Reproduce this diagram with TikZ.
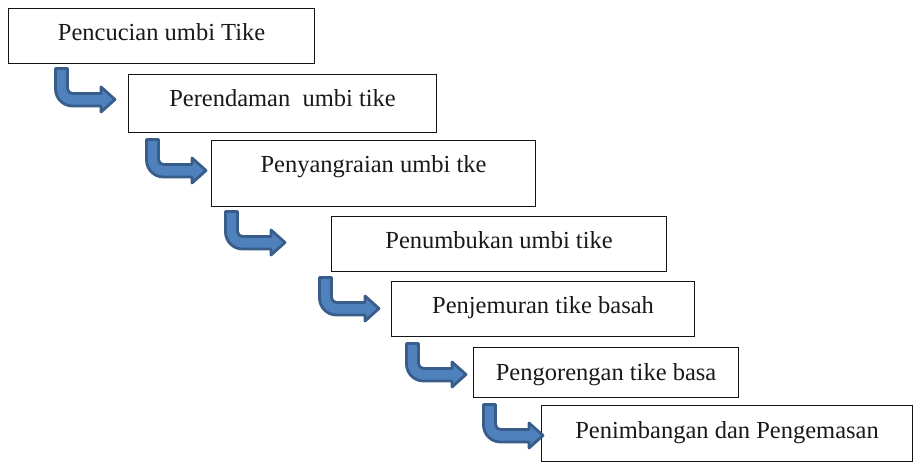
\documentclass[tikz,border=0pt]{standalone}
\usepackage{fontspec}
\setmainfont{Liberation Serif}
\definecolor{arrfill}{RGB}{79,129,189}
\definecolor{arrline}{RGB}{56,93,138}
\definecolor{boxline}{RGB}{20,20,20}
\begin{document}
\begin{tikzpicture}[x=1pt,y=-1pt,
  stepbox/.style={draw=boxline,line width=1.1pt,rectangle,anchor=north west,inner sep=0pt},
  lbl/.style={anchor=base,font=\fontsize{24.5}{28}\selectfont,text=black!90},
  arrowstyle/.style={fill=arrfill,draw=arrline,line width=2.8pt,line join=round},
  bentarr/.pic={
    \filldraw[arrowstyle] (1.5,1.5) -- (13.5,1.5) -- (13.5,21.5)
      arc[start angle=180,end angle=90,radius=5] -- (47,26.5) -- (47,20) -- (61,32.5)
      -- (47,45) -- (47,39) -- (18.5,39)
      arc[start angle=90,end angle=180,radius=17] -- cycle;
  }]
\useasboundingbox (0,0) rectangle (913,462);
% boxes
\node[stepbox,minimum width=306pt,minimum height=55pt] (b1) at (8,8) {};
\node[stepbox,minimum width=308pt,minimum height=58pt] (b2) at (128,74) {};
\node[stepbox,minimum width=324pt,minimum height=66pt] (b3) at (211,140) {};
\node[stepbox,minimum width=335pt,minimum height=55pt] (b4) at (331,216) {};
\node[stepbox,minimum width=303pt,minimum height=55pt] (b5) at (391,281) {};
\node[stepbox,minimum width=265pt,minimum height=50pt] (b6) at (473,347) {};
\node[stepbox,minimum width=371pt,minimum height=56pt] (b7) at (541,405) {};
% labels
\node[lbl] (t1) at ([yshift=-33pt]b1.north) {Pencucian umbi Tike};
\node[lbl] (t2) at ([yshift=-33pt]b2.north) {Perendaman\ \ umbi tike};
\node[lbl] (t3) at ([yshift=-33pt]b3.north) {Penyangraian umbi tke};
\node[lbl] (t4) at ([yshift=-33pt]b4.north) {Penumbukan umbi tike};
\node[lbl] (t5) at ([yshift=-33pt]b5.north) {Penjemuran tike basah};
\node[lbl] (t6) at ([yshift=-33pt]b6.north) {Pengorengan tike basa};
\node[lbl] (t7) at ([yshift=-33pt]b7.north) {Penimbangan dan Pengemasan};
% bent arrows
\pic (a1) at (54,67) {bentarr};
\pic (a2) at (145,138) {bentarr};
\pic (a3) at (224,210) {bentarr};
\pic (a4) at (318,276) {bentarr};
\pic (a5) at (405,342) {bentarr};
\pic (a6) at (482,403) {bentarr};
\end{tikzpicture}
\end{document}
